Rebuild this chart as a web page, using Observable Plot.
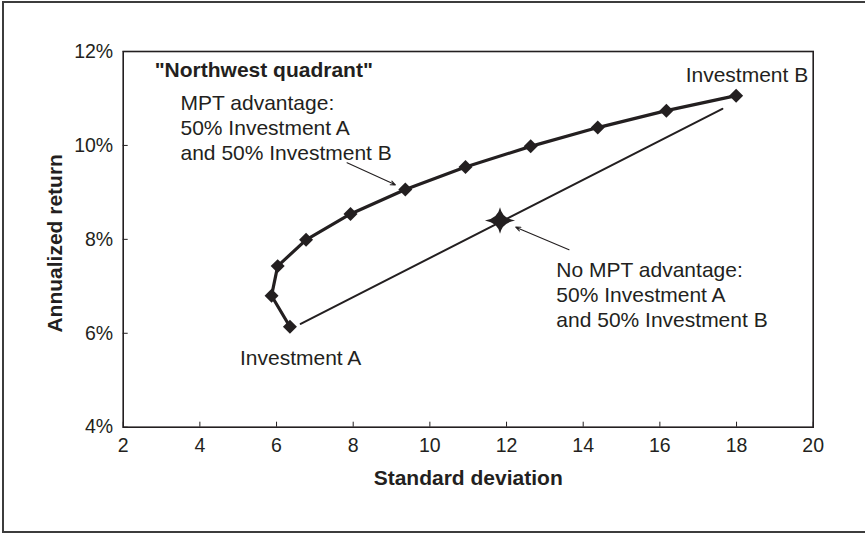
<!DOCTYPE html>
<html>
<head>
<meta charset="utf-8">
<script src="https://cdn.jsdelivr.net/npm/d3@7"></script>
<script src="https://cdn.jsdelivr.net/npm/@observablehq/plot@0.6"></script>
<style>
  html, body { margin: 0; padding: 0; background: #fff; overflow: hidden; }
  #wrap { position: relative; width: 865px; height: 533px; overflow: hidden; }
  #border { position: absolute; left: 2px; top: 1px; width: 1000px; height: 528px; border: 2px solid #3c3c3c; box-sizing: content-box; }
  #chart { position: absolute; left: 0; top: 0; }
</style>
</head>
<body>
<div id="wrap"><div id="border"></div><div id="chart"></div></div>
<script>
// Efficient frontier: mixes from 100% A (first) to 100% B (last)
const frontierSd  = [6.35, 5.87, 6.03, 6.77, 7.93, 9.36, 10.93, 12.63, 14.38, 16.17, 17.99];
const frontierRet = [6.14, 6.80, 7.43, 7.99, 8.54, 9.06, 9.54, 9.98, 10.38, 10.74, 11.06];

// Straight line (no diversification benefit)
const naiveSd  = [6.63, 17.63];
const naiveRet = [6.20, 10.78];

// 50/50 blend with no MPT advantage (star)
const blendSd  = [11.83];
const blendRet = [8.40];

// Tick values
const xTicks = [2, 4, 6, 8, 10, 12, 14, 16, 18, 20];
const yTicks = [4, 6, 8, 10, 12];

// Annotation texts and anchors (data units)
const leftNotes = [
  '"Northwest quadrant"',
  "MPT advantage:\n50% Investment A\nand 50% Investment B",
  "No MPT advantage:\n50% Investment A\nand 50% Investment B"
];
const leftNoteSd  = [2.82, 3.495, 13.30];
const leftNoteRet = [11.77, 11.12, 7.57];
const leftNoteBold = [true, false, false];

const labelA = "Investment A";
const labelASd = [6.63];
const labelARet = [5.646];
const labelB = "Investment B";
const labelBSd = [19.87];
const labelBRet = [11.66];

// Arrows (data units)
const arrowX1 = [7.84, 13.63];
const arrowY1 = [9.63, 7.78];
const arrowX2 = [9.10, 12.24];
const arrowY2 = [9.16, 8.26];

const xLabel = "Standard deviation";
const yLabel = "Annualized return";

// Build tables
const frontier = frontierSd.map((s, i) => ({sd: s, ret: frontierRet[i]}));
const naive = naiveSd.map((s, i) => ({sd: s, ret: naiveRet[i]}));
const blend = blendSd.map((s, i) => ({sd: s, ret: blendRet[i]}));
const notes = leftNotes.map((t, i) => ({text: t, sd: leftNoteSd[i], ret: leftNoteRet[i], bold: leftNoteBold[i]}));
const arrows = arrowX1.map((x, i) => ({x1: x, y1: arrowY1[i], x2: arrowX2[i], y2: arrowY2[i]}));
const labA = [{text: labelA, sd: labelASd[0], ret: labelARet[0]}];
const labB = [{text: labelB, sd: labelBSd[0], ret: labelBRet[0]}];

const ink = "#231f20";

// Four-pointed star symbol
const star = {
  draw(context, size) {
    const s = Math.sqrt(size);
    const hw = 0.85 * s, hh = 0.75 * s, c = 0.12 * s;
    context.moveTo(hw, 0);
    context.quadraticCurveTo(c, -c, 0, -hh);
    context.quadraticCurveTo(-c, -c, -hw, 0);
    context.quadraticCurveTo(-c, c, 0, hh);
    context.quadraticCurveTo(c, c, hw, 0);
    context.closePath();
  }
};

const font = "'Liberation Sans', Arial, Helvetica, sans-serif";

const chart = Plot.plot({
  width: 865,
  height: 533,
  marginLeft: 122.7,
  marginRight: 52.3,
  marginTop: 51,
  marginBottom: 106.3,
  style: {fontFamily: font, color: ink, background: "transparent", overflow: "visible"},
  x: {domain: [2, 20]},
  y: {domain: [4, 12]},
  marks: [
    Plot.frame({stroke: ink, strokeWidth: 1.6}),
    Plot.axisX({ticks: xTicks, tickSize: -5, tickPadding: 15.5, fontSize: 19.5, label: null, stroke: ink, fill: ink}),
    Plot.axisY({ticks: yTicks, tickSize: -5, tickPadding: 15, fontSize: 19.5, label: null, tickFormat: d => d + "%", stroke: ink, fill: ink}),
    Plot.text([xLabel], {frameAnchor: "bottom", textAnchor: "middle", dy: 57.3, fontSize: 21, fontWeight: "bold", fill: ink}),
    Plot.text([yLabel], {frameAnchor: "left", textAnchor: "middle", rotate: -90, dx: -67.7, dy: 4, fontSize: 21, fontWeight: "bold", fill: ink}),
    Plot.line(naive, {x: "sd", y: "ret", stroke: ink, strokeWidth: 2}),
    Plot.line(frontier, {x: "sd", y: "ret", stroke: ink, strokeWidth: 3.2}),
    Plot.dot(frontier, {x: "sd", y: "ret", symbol: "diamond2", r: 6.3, fill: ink, stroke: "none"}),
    Plot.dot(blend, {x: "sd", y: "ret", symbol: star, r: 10, fill: ink, stroke: "none"}),
    Plot.arrow(arrows, {x1: "x1", y1: "y1", x2: "x2", y2: "y2", stroke: ink, strokeWidth: 1.1, headLength: 7, headAngle: 45}),
    Plot.text(notes.filter(d => d.bold), {x: "sd", y: "ret", text: "text", textAnchor: "start", lineAnchor: "top", fontSize: 21, fontWeight: "bold", fill: ink}),
    Plot.text(notes.filter(d => !d.bold), {x: "sd", y: "ret", text: "text", textAnchor: "start", lineAnchor: "top", lineHeight: 1.18, fontSize: 21, fill: ink}),
    Plot.text(labA, {x: "sd", y: "ret", text: "text", textAnchor: "middle", lineAnchor: "top", fontSize: 21, fill: ink}),
    Plot.text(labB, {x: "sd", y: "ret", text: "text", textAnchor: "end", lineAnchor: "top", fontSize: 21, fill: ink})
  ]
});
document.getElementById("chart").appendChild(chart);
</script>
</body>
</html>
